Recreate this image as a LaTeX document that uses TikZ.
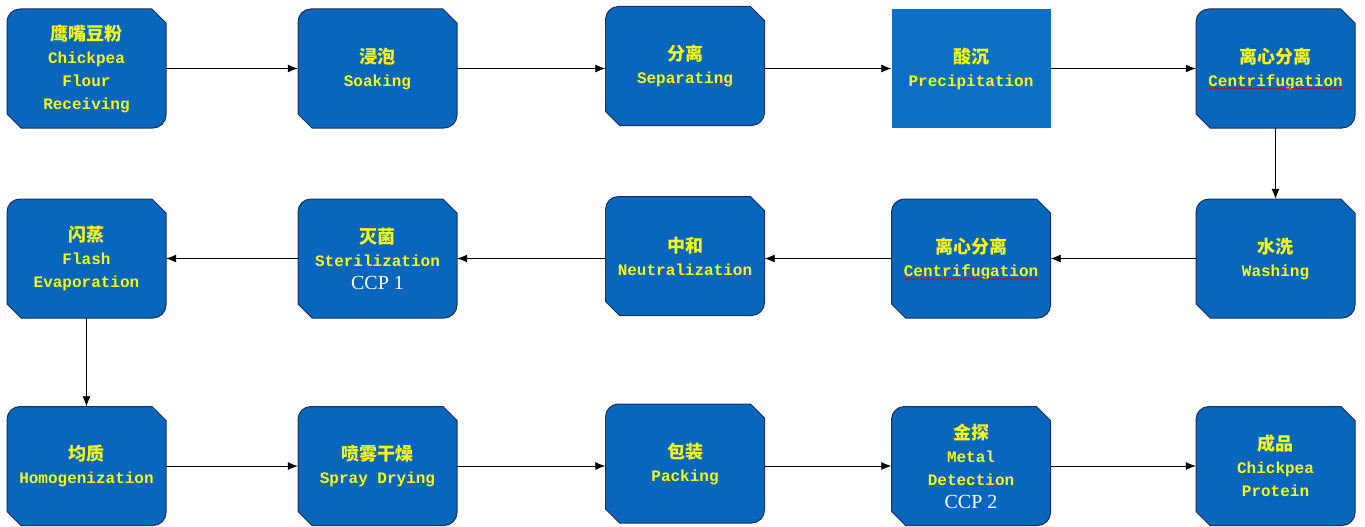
\documentclass[tikz,border=0pt]{standalone}
\usepackage{fontspec}
\usetikzlibrary{arrows.meta,decorations.pathmorphing}
\newfontfamily\cjk{Noto Sans CJK SC}
\newfontfamily\engfont{Liberation Mono}
\newfontfamily\ccpfont{Liberation Serif}
\definecolor{boxblue}{RGB}{8,102,188}
\definecolor{rectblue}{RGB}{14,112,194}
\definecolor{boxedge}{RGB}{28,48,88}
\definecolor{labelyellow}{RGB}{246,246,24}
\newcommand{\zh}[1]{{\cjk\bfseries\fontsize{18}{23}\selectfont #1}}
\newcommand{\ccp}[1]{{\ccpfont\mdseries\color{white}\fontsize{20}{23}\selectfont #1}}
% process box: round corners top left / bottom right, cut corners top right / bottom left
\newcommand{\procbox}[4]{%
  \draw [boxline] (#2-79.5,#3+46.5) arc (180:90:13) -- (#2+65.5,#3+59.5) -- (#2+79.5,#3+45.5)
    -- (#2+79.5,#3-46.5) arc (0:-90:13) -- (#2-65.5,#3-59.5) -- (#2-79.5,#3-45.5) -- cycle;
  \node [boxtext] (#1) at (#2,#3) {#4};}
\tikzset{
  boxline/.style={fill=boxblue, draw=boxedge, line width=1pt},
  boxtext/.style={minimum width=159, minimum height=119, inner sep=0pt, align=center,
    text=labelyellow, font=\engfont\bfseries\fontsize{16}{23}\selectfont},
  rectbox/.style={boxtext, fill=rectblue},
  flow/.style={-{Latex[length=10pt,width=8pt]}, line width=0.8pt},
  spellmark/.style={red!85!black, line width=0.6pt, decorate,
    decoration={snake, amplitude=0.7pt, segment length=3pt}}
}
\begin{document}
\begin{tikzpicture}[x=1pt, y=1pt]
\useasboundingbox (0,0) rectangle (1365,-527);
% first row
\procbox{flour}{86.5}{-68.5}{\zh{鹰嘴豆粉}\\Chickpea\\Flour\\Receiving}
\procbox{soak}{377.5}{-68.5}{\zh{浸泡}\\Soaking}
\procbox{sep}{685}{-66}{\zh{分离}\\Separating}
\node [rectbox] (pre) at (971,-68.5) {\zh{酸沉}\\Precipitation};
\procbox{cen1}{1275.5}{-68.5}{\zh{离心分离}\\Centrifugation}
% second row
\procbox{flash}{86.5}{-258.5}{\zh{闪蒸}\\Flash\\Evaporation}
\procbox{ster}{377.5}{-258.5}{\zh{灭菌}\\Sterilization\\\ccp{CCP 1}}
\procbox{neu}{685}{-256}{\zh{中和}\\Neutralization}
\procbox{cen2}{971}{-258.5}{\zh{离心分离}\\Centrifugation}
\procbox{wash}{1275.5}{-258.5}{\zh{水洗}\\Washing}
% third row
\procbox{homo}{86.5}{-466}{\zh{均质}\\Homogenization}
\procbox{spray}{377.5}{-466}{\zh{喷雾干燥}\\Spray Drying}
\procbox{pack}{685}{-463.5}{\zh{包装}\\Packing}
\procbox{metal}{971}{-466}{\zh{金探}\\Metal\\Detection\\\ccp{CCP 2}}
\procbox{prod}{1275.5}{-466}{\zh{成品}\\Chickpea\\Protein}
% spell check marks
\draw [spellmark] ([shift={(-67,-20)}]cen1.center) -- ([shift={(67,-20)}]cen1.center);
\draw [spellmark] ([shift={(-67,-20.5)}]cen2.center) -- ([shift={(67,-20.5)}]cen2.center);
% flow
\draw [flow] (flour.east) -- (flour.east -| soak.west);
\draw [flow] (soak.east) -- (soak.east -| sep.west);
\draw [flow] (sep.east |- pre.west) -- (pre.west);
\draw [flow] (pre.east) -- (pre.east -| cen1.west);
\draw [flow] (cen1.south) -- (wash.north);
\draw [flow] (wash.west) -- (wash.west -| cen2.east);
\draw [flow] (cen2.west) -- (cen2.west -| neu.east);
\draw [flow] (neu.west |- ster.east) -- (ster.east);
\draw [flow] (ster.west) -- (ster.west -| flash.east);
\draw [flow] (flash.south) -- (homo.north);
\draw [flow] (homo.east) -- (homo.east -| spray.west);
\draw [flow] (spray.east) -- (spray.east -| pack.west);
\draw [flow] (pack.east |- metal.west) -- (metal.west);
\draw [flow] (metal.east) -- (metal.east -| prod.west);
\end{tikzpicture}
\end{document}
